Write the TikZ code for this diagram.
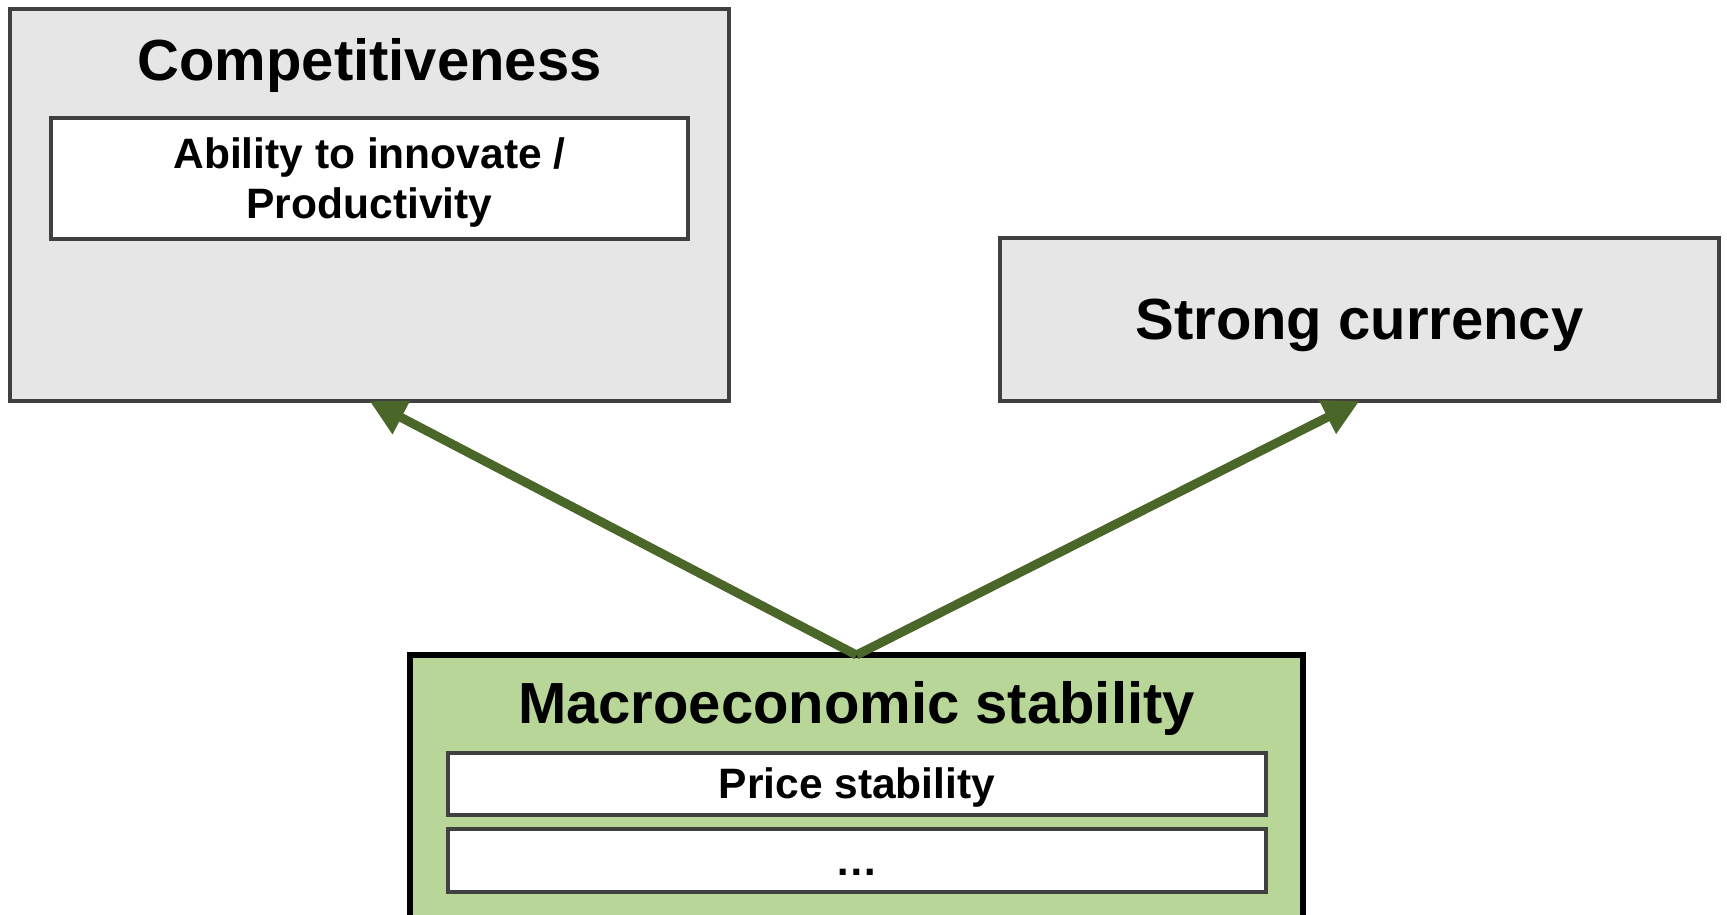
\documentclass[tikz,border=0pt]{standalone}
\usepackage{fontspec}
\setmainfont{Liberation Sans}
\usetikzlibrary{positioning}
\usetikzlibrary{arrows.meta}

\definecolor{boxgrey}{HTML}{E6E6E6}
\definecolor{framegrey}{HTML}{404040}
\definecolor{macrogreen}{HTML}{B8D698}
\definecolor{arrowgreen}{HTML}{4A6628}

\newcommand{\bigfont}{\fontsize{16.5}{19.8}\selectfont\bfseries}
\newcommand{\smallfont}{\fontsize{12.1}{14.1}\selectfont\bfseries}

\begin{document}
\begin{tikzpicture}[>={Triangle[length=10.2pt,width=10pt]},
	greybox/.style={outer sep=0pt,draw=framegrey,fill=boxgrey,line width=1.14pt},
	whitebox/.style={outer sep=0pt,draw=framegrey,fill=white,line width=1.14pt,font=\smallfont,align=center},
	greenbox/.style={outer sep=0pt,draw=black,fill=macrogreen,line width=1.7pt},
	onebig/.style={font=\bigfont,text height=14.9pt,text depth=3.5pt},
	onesmall/.style={inner ysep=0pt,text height=10.95pt,text depth=2.57pt},
	link/.style={->,draw=arrowgreen,fill=arrowgreen,line width=2.56pt}]
	\useasboundingbox (0,0) rectangle (17.27,9.14);
	\clip (0,0) rectangle (17.27,9.14);

	\node [greybox,minimum width=7.19cm,minimum height=3.92cm] at (3.695,7.09) (compet) {};
	\node [font=\bigfont,anchor=base] at (3.695,8.336) (compet_title) {Competitiveness};
	\node [whitebox,text depth=0pt,minimum width=6.366cm,minimum height=1.21cm,below=1.088cm of compet.north] (innovate) {Ability to innovate /\\ Productivity};

	\node [greybox,onebig,minimum width=7.19cm,minimum height=1.63cm] at (13.595,5.945) (currency) {Strong currency};

	\node [greenbox,minimum width=8.93cm,minimum height=2.69cm] at (8.565,1.245) (macro) {};
	\node [font=\bigfont,anchor=base] at (8.565,1.904) (macro_title) {Macroeconomic stability};
	\node [whitebox,onesmall,minimum width=8.175cm,minimum height=0.617cm] at (8.569,1.30) (price) {Price stability};
	\node [whitebox,onesmall,minimum width=8.175cm,minimum height=0.627cm,below=0.144cm of price] (more) {…};

	\draw [link] (macro.north) -- (compet.south);
	\draw [link] (macro.north) -- (currency.south);
\end{tikzpicture}
\end{document}
